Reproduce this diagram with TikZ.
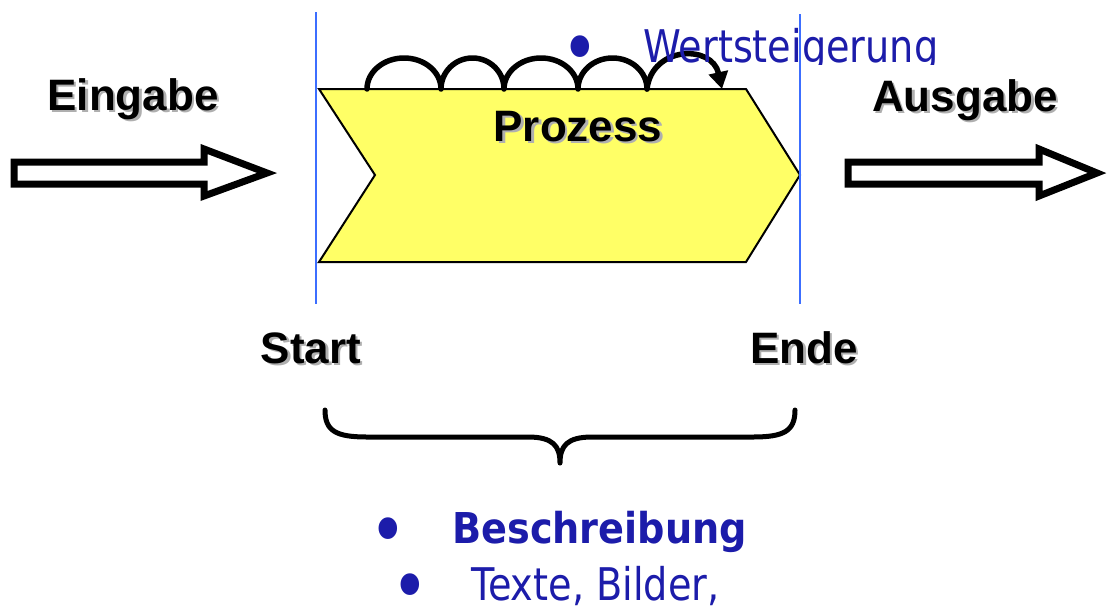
\documentclass[tikz,border=0pt]{standalone}
\usepackage{fontspec}
\setmainfont{Liberation Sans}
\newfontfamily\lblfont{Liberation Sans}
\newfontfamily\blufont[FakeStretch=0.85]{DejaVu Sans}
\newfontfamily\blubfont[FakeStretch=0.9]{DejaVu Sans}
\usetikzlibrary{arrows.meta}
\definecolor{procyellow}{RGB}{255,255,102}
\definecolor{textblue}{RGB}{28,28,170}
\definecolor{lineblue}{RGB}{60,110,255}
\definecolor{shadowgray}{RGB}{175,175,175}
\tikzset{
  lbl/.style={inner sep=0pt, anchor=base, font=\lblfont\bfseries\fontsize{44}{50}\selectfont},
  lblshadow/.style={lbl, text=shadowgray, xshift=2.5pt, yshift=-2.5pt},
  bluetext/.style={inner sep=0pt, anchor=base west, text=textblue, font=\blufont\fontsize{45}{52}\selectfont},
  blueboldtext/.style={inner sep=0pt, anchor=base west, text=textblue, font=\blubfont\bfseries\fontsize{42.5}{50}\selectfont},
  bulletmark/.style={inner sep=0pt, anchor=base, text=textblue, font=\blufont\fontsize{75}{75}\selectfont},
  hollowarrow/.style={draw=black, fill=white, line width=7pt, line join=miter},
  process/.style={draw=black, fill=procyellow, line width=2pt, line join=miter},
  loopline/.style={draw=black, line width=5.5pt, line cap=round, line join=round},
  bracket/.style={draw=black, line width=5pt, line cap=round, line join=round},
  boundary/.style={draw=lineblue, line width=2pt}
}
\begin{document}
\begin{tikzpicture}[x=1pt,y=-1pt]
\useasboundingbox (0,0) rectangle (1107,605);

% input and output arrows
\draw[hollowarrow] (14,162) -- (204,162) -- (204,149) -- (267,173) -- (204,196) -- (204,184) -- (14,184) -- cycle;
\draw[hollowarrow] (848,162) -- (1039,162) -- (1039,149) -- (1097,173) -- (1039,196) -- (1039,184) -- (848,184) -- cycle;

% process chevron
\draw[process] (319,89) -- (746,89) -- (800,175) -- (746,262) -- (319,262) -- (375,175) -- cycle;

% loops on top of the process
\draw[loopline] (367,89) arc[start angle=180, end angle=360, x radius=37, y radius=31]
  arc[start angle=180, end angle=360, x radius=31.5, y radius=31]
  arc[start angle=180, end angle=360, x radius=37, y radius=31]
  arc[start angle=180, end angle=360, x radius=34.5, y radius=31];
\draw[loopline, -{Triangle[length=17pt, width=19pt]}] (647,89) .. controls (652,46) and (712,44) .. (722,89);

% value-added bullet
\node[bulletmark] (b1) at (580,74) {•};
\begin{scope}
  \clip (600,0) rectangle (1000,64);
  \node[bluetext] (wert) at (643,62) {Wertsteigerung};
\end{scope}

% labels
\node[lblshadow] (eingabe-s) at (133,110) {Eingabe};
\node[lbl] (eingabe) at (133,110) {Eingabe};
\node[lblshadow] (ausgabe-s) at (965,111) {Ausgabe};
\node[lbl] (ausgabe) at (965,111) {Ausgabe};
\node[lblshadow] (prozess-s) at (578,141) {Prozess};
\node[lbl] (prozess) at (578,141) {Prozess};
\node[lblshadow] (start-s) at (311,363) {Start};
\node[lbl] (start) at (311,363) {Start};
\node[lblshadow] (ende-s) at (804,363) {Ende};
\node[lbl] (ende) at (804,363) {Ende};

% start and end boundaries
\draw[boundary] (316,12) -- (316,304);
\draw[boundary] (800,14) -- (800,304);

% brace under the process
\draw[bracket] (325,410) .. controls (325,431) and (336,437) .. (367,437) -- (528,437)
  .. controls (553,437) and (560,446) .. (560,463)
  .. controls (560,446) and (567,437) .. (592,437) -- (753,437)
  .. controls (784,437) and (795,431) .. (795,410);

% description bullets
\node[bulletmark] (b2) at (388,556) {•};
\node[blueboldtext] (beschr) at (452,543) {Beschreibung};
\node[bulletmark] (b3) at (410,612) {•};
\node[bluetext] (texte) at (471,600) {Texte, Bilder,};
\end{tikzpicture}
\end{document}
